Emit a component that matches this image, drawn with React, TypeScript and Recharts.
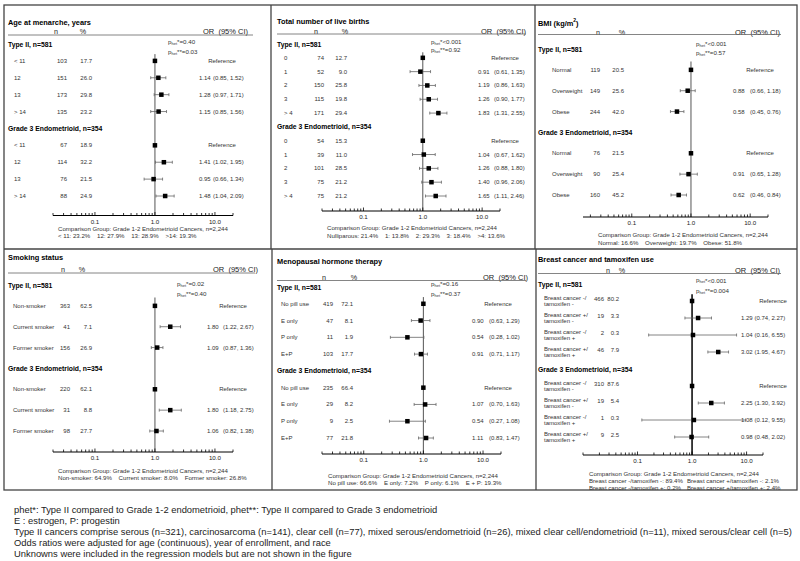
import React from 'react';
import { ScatterChart, Scatter, XAxis, YAxis, ErrorBar, ReferenceLine } from 'recharts';

type Row = [number, number, number, number | null, number | null]; // n, %, OR, lo, hi

const FONT = "'Liberation Sans', Arial, Helvetica, sans-serif";

const groupLabels = ['Type II, n=581', 'Grade 3 Endometrioid, n=354'];
const headerLabels = ['n', '%', 'OR  (95% CI)'];
const comparisonTitle = 'Comparison Group: Grade 1-2 Endometrioid Cancers, n=2,244';

const majorTicks = [0.1, 1, 10];
const majorTickLabels = ['0.1', '1.0', '10.0'];
const allTicks = [0.01, 0.02, 0.03, 0.04, 0.05, 0.06, 0.07, 0.08, 0.09, 0.1, 0.2, 0.3, 0.4, 0.5, 0.6, 0.7, 0.8, 0.9, 1, 2, 3, 4, 5, 6, 7, 8, 9, 10, 20];

// Age at menarche
const menarcheLabels = ['< 11', '12', '13', '> 14'];
const menarcheTypeII: Row[] = [[103, 17.7, 1, null, null], [151, 26.0, 1.14, 0.85, 1.52], [173, 29.8, 1.28, 0.97, 1.71], [135, 23.2, 1.15, 0.85, 1.56]];
const menarcheGrade3: Row[] = [[67, 18.9, 1, null, null], [114, 32.2, 1.41, 1.02, 1.95], [76, 21.5, 0.95, 0.66, 1.34], [88, 24.9, 1.48, 1.04, 2.09]];
const menarchePhet = ['*=0.40', '**=0.03'];
const menarcheComparison = ['< 11: 23.2%    12: 27.9%    13: 28.9%    >14: 19.3%'];

// Live births
const birthsLabels = ['0', '1', '2', '3', '> 4'];
const birthsTypeII: Row[] = [[74, 12.7, 1, null, null], [52, 9.0, 0.91, 0.61, 1.35], [150, 25.8, 1.19, 0.86, 1.63], [115, 19.8, 1.26, 0.90, 1.77], [171, 29.4, 1.83, 1.31, 2.55]];
const birthsGrade3: Row[] = [[54, 15.3, 1, null, null], [39, 11.0, 1.04, 0.67, 1.62], [101, 28.5, 1.26, 0.88, 1.80], [75, 21.2, 1.40, 0.96, 2.06], [75, 21.2, 1.65, 1.11, 2.46]];
const birthsPhet = ['*<0.001', '**=0.92'];
const birthsComparison = ['Nulliparous: 21.4%    1: 13.8%    2: 29.3%    3: 18.4%    >4: 13.6%'];

// BMI
const bmiLabels = ['Normal', 'Overweight', 'Obese'];
const bmiTypeII: Row[] = [[119, 20.5, 1, null, null], [149, 25.6, 0.88, 0.66, 1.18], [244, 42.0, 0.58, 0.45, 0.76]];
const bmiGrade3: Row[] = [[76, 21.5, 1, null, null], [90, 25.4, 0.91, 0.65, 1.28], [160, 45.2, 0.62, 0.46, 0.84]];
const bmiPhet = ['*<0.001', '**=0.57'];
const bmiComparison = ['Normal: 16.6%    Overweight: 19.7%    Obese: 51.8%'];

// Smoking
const smokingLabels = ['Non-smoker', 'Current smoker', 'Former smoker'];
const smokingTypeII: Row[] = [[363, 62.5, 1, null, null], [41, 7.1, 1.80, 1.22, 2.67], [156, 26.9, 1.09, 0.87, 1.36]];
const smokingGrade3: Row[] = [[220, 62.1, 1, null, null], [31, 8.8, 1.80, 1.18, 2.75], [98, 27.7, 1.06, 0.82, 1.38]];
const smokingPhet = ['*=0.02', '**=0.40'];
const smokingComparison = ['Non-smoker: 64.9%    Current smoker: 8.0%    Former smoker: 26.8%'];

// Menopausal hormone therapy
const hrtLabels = ['No pill use', 'E only', 'P only', 'E+P'];
const hrtTypeII: Row[] = [[419, 72.1, 1, null, null], [47, 8.1, 0.90, 0.63, 1.29], [11, 1.9, 0.54, 0.28, 1.02], [103, 17.7, 0.91, 0.71, 1.17]];
const hrtGrade3: Row[] = [[235, 66.4, 1, null, null], [29, 8.2, 1.07, 0.70, 1.63], [9, 2.5, 0.54, 0.27, 1.08], [77, 21.8, 1.11, 0.83, 1.47]];
const hrtPhet = ['*=0.16', '**=0.37'];
const hrtComparison = ['No pill use: 66.6%    E only: 7.2%    P only: 6.1%    E + P: 19.3%'];

// Breast cancer and tamoxifen
const breastLabels = ['Breast cancer -/\ntamoxifen -', 'Breast cancer +/\ntamoxifen -', 'Breast cancer -/\ntamoxifen +', 'Breast cancer +/\ntamoxifen +'];
const breastTypeII: Row[] = [[466, 80.2, 1, null, null], [19, 3.3, 1.29, 0.74, 2.27], [2, 0.3, 1.04, 0.16, 6.55], [46, 7.9, 3.02, 1.95, 4.67]];
const breastGrade3: Row[] = [[310, 87.6, 1, null, null], [19, 5.4, 2.25, 1.30, 3.92], [1, 0.3, 1.08, 0.12, 9.55], [9, 2.5, 0.98, 0.48, 2.02]];
const breastPhet = ['*<0.001', '**=0.004'];
const breastComparisonLeft = ['Breast cancer -/tamoxifen -: 89.4%', 'Breast cancer -/tamoxifen +: 0.2%'];
const breastComparisonRight = ['Breast cancer +/tamoxifen -: 2.1%', 'Breast cancer +/tamoxifen +: 2.4%'];

const footnotes = [
  'phet*: Type II compared to Grade 1-2 endometrioid, phet**: Type II compared to Grade 3 endometrioid',
  'E : estrogen, P: progestin',
  'Type II cancers comprise serous (n=321), carcinosarcoma (n=141), clear cell (n=77), mixed serous/endometrioid (n=26), mixed clear cell/endometrioid (n=11), mixed serous/clear cell (n=5)',
  'Odds ratios were adjusted for age (continuous), year of enrollment, and race',
  'Unknowns were included in the regression models but are not shown in the figure',
];

interface PanelCfg {
  title: React.ReactNode;
  box: [number, number, number, number];
  labels: string[];
  typeII: Row[];
  grade3: Row[];
  phet: string[];
  compLeft: string[];
  compRight?: string[];
  compRightX?: number;
  axis: [number, number];
  domainMin: number;
  axisY: number;
  y0: number;
  yN: number;
  titleX: number;
  titleY: number;
  headerY: number;
  headerX: [number, number, number];
  lineY: number;
  lineX: [number, number];
  phetPos: [number, number, number];
  compPos: [number, number, number];
  labelX: number;
  nX: number;
  pctX: number;
  orX: number;
  ciGap: number;
  refX: number;
  refStroke: string;
  refWidth: number;
  twoLine?: boolean;
}

const AXIS_H = 20;

const panels: PanelCfg[] = [
  {
    title: 'Age at menarche, years', box: [4, 5, 267, 244], labels: menarcheLabels, typeII: menarcheTypeII, grade3: menarcheGrade3,
    phet: menarchePhet, compLeft: menarcheComparison, axis: [53, 233], domainMin: 0.02, axisY: 215.5, y0: 44, yN: 196,
    titleX: 8, titleY: 22, headerY: 31, headerX: [56, 83, 203], lineY: 35, lineX: [8, 253], phetPos: [168, 41, 51], compPos: [58, 228.5, 7],
    labelX: 14, nX: 67, pctX: 92, orX: 199, ciGap: 14, refX: 222, refStroke: '#555', refWidth: 1,
  },
  {
    title: 'Total number of live births', box: [271, 5, 264, 244], labels: birthsLabels, typeII: birthsTypeII, grade3: birthsGrade3,
    phet: birthsPhet, compLeft: birthsComparison, axis: [322, 500], domainMin: 0.02, axisY: 211, y0: 44, yN: 196,
    titleX: 277, titleY: 21, headerY: 31.5, headerX: [316, 345, 481], lineY: 34, lineX: [277, 526], phetPos: [431, 41, 49], compPos: [327, 227.5, 7.5],
    labelX: 284, nX: 324, pctX: 347, orX: 478, ciGap: 16, refX: 505, refStroke: '#555', refWidth: 1,
  },
  {
    title: <>BMI (kg/m<tspan fontSize={5} dy={-3}>2</tspan><tspan dy={3}>)</tspan></>, box: [535, 5, 262, 244], labels: bmiLabels, typeII: bmiTypeII, grade3: bmiGrade3,
    phet: bmiPhet, compLeft: bmiComparison, axis: [583, 768], domainMin: 0.015, axisY: 217, y0: 49, yN: 195,
    titleX: 538, titleY: 23, headerY: 32.5, headerX: [598, 622, 735], lineY: 34.5, lineX: [538, 781], phetPos: [696, 43, 52], compPos: [598, 234, 8],
    labelX: 552, nX: 600, pctX: 624, orX: 733, ciGap: 17, refX: 760, refStroke: '#555', refWidth: 1,
  },
  {
    title: 'Smoking status', box: [4, 249, 268, 241], labels: smokingLabels, typeII: smokingTypeII, grade3: smokingGrade3,
    phet: smokingPhet, compLeft: smokingComparison, axis: [53, 233], domainMin: 0.02, axisY: 452, y0: 285, yN: 431,
    titleX: 8, titleY: 257, headerY: 269, headerX: [63, 82, 213], lineY: 273, lineX: [8, 255], phetPos: [177, 283, 293], compPos: [58, 470, 7],
    labelX: 13, nX: 70, pctX: 92, orX: 207, ciGap: 16, refX: 233, refStroke: '#555', refWidth: 1,
  },
  {
    title: 'Menopausal hormone therapy', box: [272, 249, 264, 241], labels: hrtLabels, typeII: hrtTypeII, grade3: hrtGrade3,
    phet: hrtPhet, compLeft: hrtComparison, axis: [322, 501], domainMin: 0.02, axisY: 454, y0: 287, yN: 438,
    titleX: 277, titleY: 261, headerY: 277, headerX: [324, 354, 483], lineY: 280.5, lineX: [277, 526], phetPos: [431, 283, 293], compPos: [328, 475, 7],
    labelX: 281, nX: 333, pctX: 353, orX: 472, ciGap: 17, refX: 498, refStroke: '#555', refWidth: 1,
  },
  {
    title: 'Breast cancer and tamoxifen use', box: [536, 249, 261, 241], labels: breastLabels, typeII: breastTypeII, grade3: breastGrade3,
    phet: breastPhet, compLeft: breastComparisonLeft, compRight: breastComparisonRight, compRightX: 687, axis: [583, 763], domainMin: 0.01, axisY: 455, y0: 284, yN: 437,
    titleX: 538, titleY: 259.5, headerY: 270, headerX: [608, 622, 735], lineY: 273.5, lineX: [538, 781], phetPos: [696, 279.5, 290], compPos: [589, 473, 7],
    labelX: 544, nX: 604, pctX: 619, orX: 741, ciGap: 13.5, refX: 773, refStroke: '#000', refWidth: 1.5, twoLine: true,
  },
];

function buildRows(p: PanelCfg) {
  const rows: any[] = [];
  let i = 0;
  const addGroup = (title: string, data: Row[]) => {
    rows.push({ row: i++, or: 1, kind: 'group', text: title });
    data.forEach((r, k) => {
      rows.push({
        row: i++, or: r[2], kind: 'data', label: p.labels[k], n: r[0], pct: r[1], lo: r[3], hi: r[4],
        ci: r[3] == null || r[4] == null ? null : [r[2] - r[3], r[4] - r[2]],
      });
    });
  };
  addGroup(groupLabels[0], p.typeII);
  addGroup(groupLabels[1], p.grade3);
  return rows;
}

const TXT = { fontSize: 6, fill: '#333', fontFamily: FONT } as const;

const makeShape = (p: PanelCfg) => (props: any) => {
  const { cx, cy, payload } = props;
  const ox = p.box[0];
  if (payload.kind === 'group') {
    return (
      <text x={p.titleX - ox} y={cy} fontSize={6.8} fontWeight="bold" fill="#000" fontFamily={FONT} dominantBaseline="central">
        {payload.text}
      </text>
    );
  }
  const lines: string[] = String(payload.label).split('\n');
  const lh = 6.5;
  const ny = p.twoLine ? cy - 2 : cy;
  return (
    <g>
      {lines.map((l, i) => (
        <text key={i} x={p.labelX - ox} y={cy + (i - (lines.length - 1) / 2) * lh} {...TXT} dominantBaseline="central">{l}</text>
      ))}
      <text x={p.nX - ox} y={ny} {...TXT} textAnchor="end" dominantBaseline="central">{payload.n}</text>
      <text x={p.pctX - ox} y={ny} {...TXT} textAnchor="end" dominantBaseline="central">{payload.pct.toFixed(1)}</text>
      {payload.lo == null ? (
        <text x={p.refX - ox} y={cy} {...TXT} textAnchor="middle" dominantBaseline="central">Reference</text>
      ) : (
        <>
          <text x={p.orX - ox} y={cy} {...TXT} dominantBaseline="central">{payload.or.toFixed(2)}</text>
          <text x={p.orX + p.ciGap - ox} y={cy} {...TXT} dominantBaseline="central">
            ({payload.lo.toFixed(2)}, {payload.hi.toFixed(2)})
          </text>
        </>
      )}
      <rect x={cx - 2.25} y={cy - 2.25} width={4.5} height={4.5} fill="#000" />
    </g>
  );
};

const AxisTick = (props: any) => {
  const { x, y, payload } = props;
  const v = payload.value;
  const k = majorTicks.findIndex((m) => Math.abs(m - v) < 1e-9);
  return (
    <g>
      <line x1={x} x2={x} y1={y} y2={y - (k >= 0 ? 3.5 : 2.5)} stroke="#000" strokeWidth={0.8} />
      {k >= 0 && (
        <text x={x} y={y + 5.8} textAnchor="middle" dominantBaseline="central" fontSize={6.2} fill="#222" fontFamily={FONT}>
          {majorTickLabels[k]}
        </text>
      )}
    </g>
  );
};

function Panel({ p }: { p: PanelCfg }) {
  const [bx, by, bw, bh] = p.box;
  const rows = buildRows(p);
  const count = rows.length;
  const s = (p.yN - p.y0) / (count - 1);
  const plotTop = p.y0 - s;
  const dMax = count - 1 + (p.axisY - p.yN) / s;
  const margin = {
    top: plotTop - by,
    bottom: by + bh - p.axisY - AXIS_H,
    left: p.axis[0] - bx,
    right: bx + bw - p.axis[1],
  };
  const ticks = allTicks.filter((t) => t >= p.domainMin - 1e-9);
  return (
    <div style={{ position: 'absolute', left: bx, top: by, width: bw, height: bh }}>
      <ScatterChart width={bw} height={bh} margin={margin}>
        <XAxis
          type="number"
          dataKey="or"
          scale="log"
          domain={[p.domainMin, 20]}
          ticks={ticks}
          interval={0}
          tick={(tp: any) => <AxisTick {...tp} />}
          tickLine={false}
          tickSize={0}
          tickMargin={0}
          height={AXIS_H}
          axisLine={{ stroke: '#000', strokeWidth: 1 }}
        />
        <YAxis type="number" dataKey="row" domain={[-1, dMax]} reversed hide width={0} />
        <ReferenceLine segment={[{ x: 1, y: 0.6 }, { x: 1, y: dMax }]} stroke={p.refStroke} strokeWidth={p.refWidth} />
        <Scatter data={rows} isAnimationActive={false} shape={makeShape(p)}>
          <ErrorBar dataKey="ci" direction="x" width={1.5} stroke="#666" strokeWidth={0.8} isAnimationActive={false} />
        </Scatter>
      </ScatterChart>
    </div>
  );
}

const CMP = 6.1;

function Statics({ p }: { p: PanelCfg }) {
  return (
    <g fontFamily={FONT}>
      <text x={p.titleX} y={p.titleY} fontSize={7.4} fontWeight="bold" fill="#000" dominantBaseline="central">{p.title}</text>
      <text x={p.headerX[0]} y={p.headerY} fontSize={7.2} fill="#222" textAnchor="middle" dominantBaseline="central">{headerLabels[0]}</text>
      <text x={p.headerX[1]} y={p.headerY} fontSize={7.2} fill="#222" textAnchor="middle" dominantBaseline="central">{headerLabels[1]}</text>
      <text x={p.headerX[2]} y={p.headerY} fontSize={7.5} fill="#222" dominantBaseline="central" style={{ whiteSpace: 'pre' }}>{headerLabels[2]}</text>
      <line x1={p.lineX[0]} x2={p.lineX[1]} y1={p.lineY} y2={p.lineY} stroke="#666" strokeWidth={0.8} />
      {p.phet.map((t, i) => (
        <text key={i} x={p.phetPos[0]} y={p.phetPos[1 + i]} fontSize={6.2} fill="#333" dominantBaseline="central">
          p<tspan fontSize={4} dy={1.5}>het</tspan><tspan dy={-1.5}>{t}</tspan>
        </text>
      ))}
      <text x={p.compPos[0]} y={p.compPos[1]} fontSize={CMP} fill="#333" dominantBaseline="central">{comparisonTitle}</text>
      {p.compLeft.map((t, i) => (
        <text key={'l' + i} x={p.compPos[0]} y={p.compPos[1] + (i + 1) * p.compPos[2]} fontSize={CMP} fill="#333" dominantBaseline="central" style={{ whiteSpace: 'pre' }}>{t}</text>
      ))}
      {p.compRight && p.compRight.map((t, i) => (
        <text key={'r' + i} x={p.compRightX} y={p.compPos[1] + (i + 1) * p.compPos[2]} fontSize={CMP} fill="#333" dominantBaseline="central">{t}</text>
      ))}
    </g>
  );
}

export default function App() {
  return (
    <div style={{ position: 'absolute', left: 0, top: 0, width: 800, height: 561, background: '#fff', fontFamily: FONT }}>
      {panels.map((p, i) => (
        <Panel key={i} p={p} />
      ))}
      <svg width={800} height={561} style={{ position: 'absolute', left: 0, top: 0, pointerEvents: 'none' }}>
        <g stroke="#444" strokeWidth={1.3} fill="none">
          <rect x={4} y={5} width={793} height={485} />
          <line x1={4} x2={797} y1={249} y2={249} />
          <line x1={271} x2={271} y1={5} y2={249} />
          <line x1={535} x2={535} y1={5} y2={249} />
          <line x1={272} x2={272} y1={249} y2={490} />
          <line x1={536} x2={536} y1={249} y2={490} />
        </g>
        {panels.map((p, i) => (
          <Statics key={i} p={p} />
        ))}
        {footnotes.map((t, i) => (
          <text key={i} x={14} y={509 + i * 11} fontSize={9.4} fill="#222" fontFamily={FONT} dominantBaseline="central">{t}</text>
        ))}
      </svg>
    </div>
  );
}
